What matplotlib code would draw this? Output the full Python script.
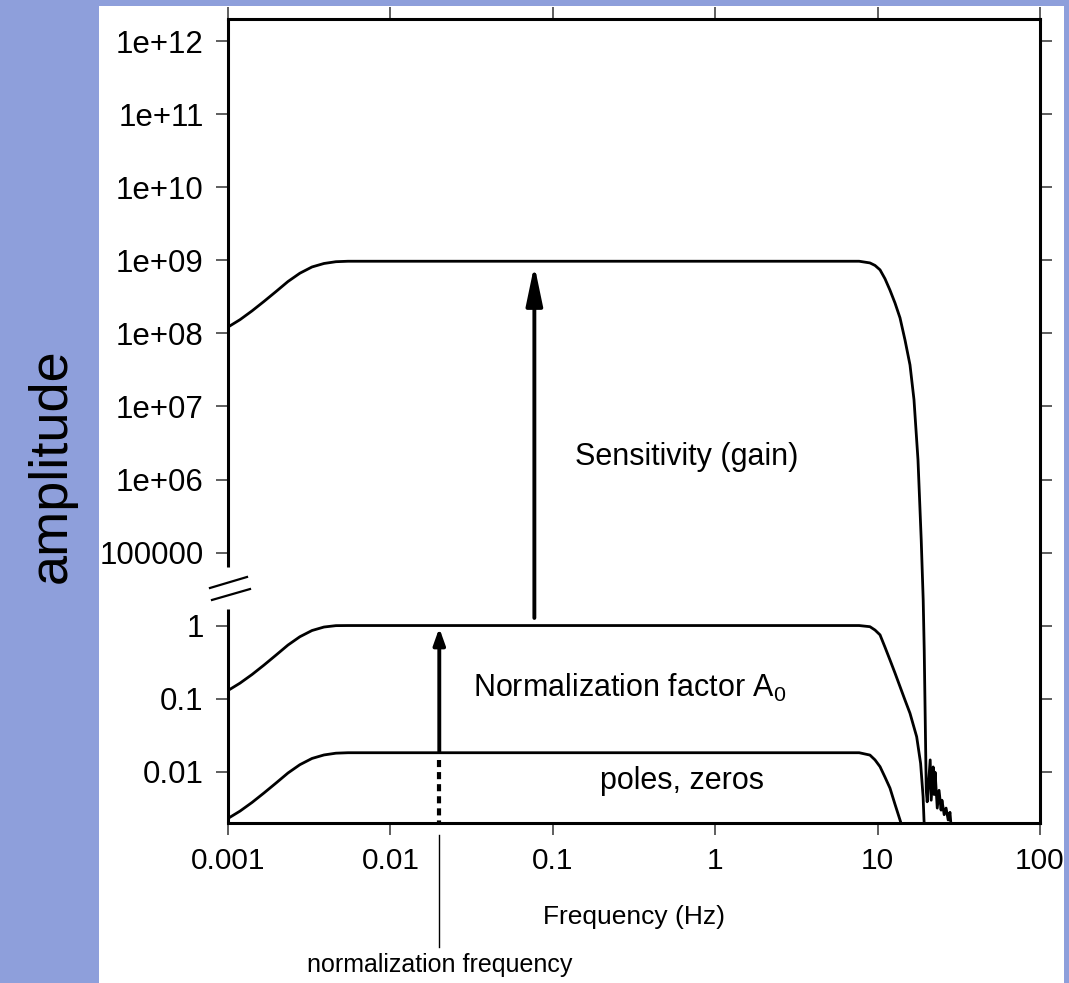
import matplotlib
matplotlib.use("Agg")
import matplotlib.pyplot as plt
import matplotlib.transforms as mtransforms
from matplotlib.patches import Rectangle
import numpy as np

plt.rcParams['font.family'] = ['Liberation Sans', 'DejaVu Sans']
plt.rcParams['mathtext.default'] = 'regular'

# Data
freq_top = [0.001, 0.001186, 0.001406, 0.001667, 0.001977, 0.00234, 0.00277, 0.00329,
            0.0039, 0.00462, 0.00548, 0.0065, 1.0, 7.7,
            8.97, 9.64, 10.35, 11.1, 11.92, 12.8, 13.74, 14.75, 15.83, 16.75, 17.73,
            18.56, 19.09, 19.37, 19.65, 19.93, 20.2, 21.08, 21.38, 21.99, 22.3, 22.6,
            23.3, 23.9, 24.6, 24.9, 25.7, 26.4, 27.2, 27.9, 28.3]
amp_top = [1.22e8, 1.54e8, 2.03e8, 2.74e8, 3.74e8, 5.12e8, 6.65e8, 8.1e8,
           9.04e8, 9.56e8, 9.7e8, 9.7e8, 9.7e8, 9.7e8,
           9.2e8, 8.5e8, 7.4e8, 5.6e8, 3.9e8, 2.6e8, 1.63e8, 8.1e7, 3.7e7, 1.24e7, 1.86e6,
           1.5e5, 57, 0.46, 0.051, 0.0056, 0.0039, 0.0146, 0.0041, 0.0117, 0.0049, 0.0099,
           0.0032, 0.0056, 0.0030, 0.0041, 0.0026, 0.0032, 0.0022, 0.0028, 0.0019]

freq_mid = [0.001, 0.001186, 0.001406, 0.001667, 0.001977, 0.00234, 0.00277, 0.00329,
            0.0039, 0.00462, 0.00548, 0.0065, 1.0, 7.7,
            8.97, 9.64, 10.35, 11.1, 11.92, 12.8, 13.74, 14.75, 15.83, 17.4, 18.4,
            19.06, 19.3, 19.5]
amp_mid = [0.13, 0.164, 0.215, 0.29, 0.397, 0.544, 0.707, 0.86,
           0.96, 1.015, 1.03, 1.03, 1.03, 1.03,
           0.97, 0.873, 0.75, 0.51, 0.34, 0.225, 0.147, 0.096, 0.0634, 0.0303, 0.0131,
           0.0046, 0.00224, 0.0015]

freq_low = [0.001, 0.001186, 0.001406, 0.001667, 0.001977, 0.00234, 0.00277, 0.00329,
            0.0039, 0.00462, 0.00548, 0.0065, 1.0, 7.7,
            8.97, 9.64, 10.35, 11.1, 11.92, 12.8, 13.74, 14.5]
amp_low = [0.00231, 0.00291, 0.00382, 0.00516, 0.00705, 0.00966, 0.01255, 0.01528,
           0.01706, 0.01804, 0.0183, 0.0183, 0.0183, 0.0183,
           0.017, 0.0146, 0.0118, 0.0085, 0.006, 0.0036, 0.0022, 0.0015]

x_ticks = [0.001, 0.01, 0.1, 1, 10, 100]
x_labels = ["0.001", "0.01", "0.1", "1", "10", "100"]
y_ticks = [0.01, 0.1, 1, 1e5, 1e6, 1e7, 1e8, 1e9, 1e10, 1e11, 1e12]
y_labels = ["0.01", "0.1", "1", "100000", "1e+06", "1e+07", "1e+08",
            "1e+09", "1e+10", "1e+11", "1e+12"]

norm_freq = 0.02
gain_freq = 0.077


# broken log axis: 1 .. 1e5 squeezed into one decade
def fwd(v):
    v = np.maximum(np.asarray(v, dtype=float), 1e-300)
    L = np.log10(v)
    return np.where(L <= 0, L, np.where(L < 5, L / 5.0, L - 4.0))


def inv(d):
    d = np.asarray(d, dtype=float)
    with np.errstate(over='ignore'):
        return np.where(d <= 0, 10.0 ** d, np.where(d < 1, 10.0 ** (5 * d), 10.0 ** (d + 4)))


W, H = 1069, 983
fig = plt.figure(figsize=(W / 100, H / 100), dpi=100)
fig.patch.set_facecolor('#8e9fdb')
fig.patches.append(Rectangle((99 / W, 0), (1064 - 99) / W, (H - 6) / H,
                             transform=fig.transFigure, facecolor='white',
                             edgecolor='none', zorder=-5))

ax = fig.add_axes([228 / W, 1 - 823 / H, 812 / W, 804 / H])
ax.set_xscale('log')
ax.set_yscale('function', functions=(fwd, inv))
ax.set_xlim(0.001, 100)
ax.set_ylim(0.0020, 2.0e12)

lw = 2.0
ax.plot(freq_top, amp_top, color='black', lw=lw, solid_joinstyle='round')
ax.plot(freq_mid, amp_mid, color='black', lw=lw, solid_joinstyle='round')
ax.plot(freq_low, amp_low, color='black', lw=lw, solid_joinstyle='round')

# arrows
ax.annotate('', xy=(gain_freq, 8.6e8), xytext=(gain_freq, 3.4),
            arrowprops=dict(arrowstyle='-|>,head_length=1.2,head_width=0.25',
                            lw=2.8, color='black', mutation_scale=20,
                            shrinkA=0, shrinkB=0))
ax.annotate('', xy=(norm_freq, 0.93), xytext=(norm_freq, 0.019),
            arrowprops=dict(arrowstyle='-|>,head_length=0.7,head_width=0.25',
                            lw=2.8, color='black', mutation_scale=14,
                            shrinkA=0, shrinkB=0))
ax.plot([norm_freq, norm_freq], [0.0146, 0.0020], color='black', lw=3,
        linestyle=(0, (1.7, 1.2)), solid_capstyle='butt', dash_capstyle='butt')

# texts inside
ax.text(0.67, 1.58e6, "Sensitivity (gain)", fontsize=22, ha='center', va='baseline')
ax.text(0.0323, 0.106, "Normalization factor A$_0$", fontsize=22, ha='left', va='baseline')
ax.text(0.625, 0.00578, "poles, zeros", fontsize=22, ha='center', va='baseline')

# axes styling
for side in ['top', 'right', 'bottom']:
    ax.spines[side].set_linewidth(2.2)
ax.spines['left'].set_visible(False)
ax.plot([0, 0], [0, 0.266], transform=ax.transAxes, color='black', lw=2.2,
        clip_on=False, solid_capstyle='butt')
ax.plot([0, 0], [0.318, 1], transform=ax.transAxes, color='black', lw=2.2,
        clip_on=False, solid_capstyle='butt')
# break marks
ax.plot([-0.0222, 0.0234], [0.2923, 0.306], transform=ax.transAxes, color='black',
        lw=1.6, clip_on=False)
ax.plot([-0.0197, 0.0271], [0.2774, 0.2910], transform=ax.transAxes, color='black',
        lw=1.6, clip_on=False)

ax.set_xticks(x_ticks)
ax.set_xticklabels(x_labels, fontsize=21.5)
ax.set_yticks(y_ticks)
ax.set_yticklabels(y_labels, fontsize=22.5)
ax.minorticks_off()
ax.tick_params(which='major', direction='out', length=8.6, width=1.1, color='#333333',
               top=True, right=True, labeltop=False, labelright=False)
ax.tick_params(axis='y', pad=9)
ax.tick_params(axis='x', pad=9)

ax.text(0.5, -0.117, "Frequency (Hz)", transform=ax.transAxes, fontsize=19,
        ha='center', va='center')

# normalization frequency pointer below axis
blend = mtransforms.blended_transform_factory(ax.transData, ax.transAxes)
ax.plot([norm_freq, norm_freq], [-0.015, -0.154], transform=blend, color='black',
        lw=1.0, clip_on=False)
ax.text(norm_freq, -0.1766, "normalization frequency", transform=blend, fontsize=18,
        ha='center', va='center')

fig.text(52 / W, 1 - 466 / H, "amplitude", rotation=90, fontsize=39,
         ha='center', va='center')

fig.savefig("out.png", dpi=100, facecolor=fig.get_facecolor())
